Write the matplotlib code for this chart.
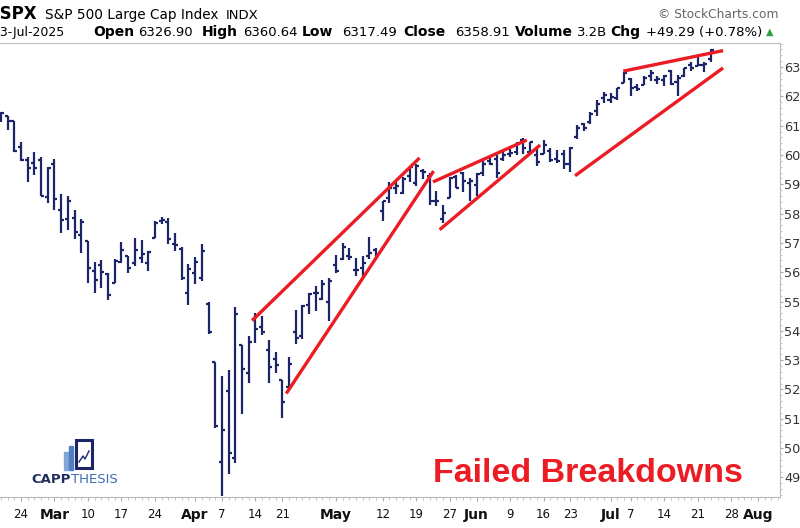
import numpy as np
import pandas as pd
import matplotlib.pyplot as plt
from matplotlib.patches import Rectangle
from matplotlib.ticker import MultipleLocator

plt.rcParams['font.family'] = ['Liberation Sans', 'DejaVu Sans']

# daily S&P 500 bars, 19-Feb-2025 .. 23-Jul-2025
opens = [6117.8, 6134.5, 6114.8, 6026.7, 5982.7, 5970.9, 5981.9, 5856.7,
         5968.3, 5812.0, 5781.4, 5785.9, 5726.0, 5705.4, 5603.7, 5624.8, 5594.5, 5563.9,
         5635.6, 5654.5, 5632.4, 5646.9, 5630.7, 5718.1, 5776.0, 5771.7, 5695.6, 5679.8, 5527.9,
         5597.5, 5580.8, 5492.7, 5292.1, 4953.8, 5193.6, 4965.3, 5353.2, 5255.6,
         5442.0, 5412.0, 5335.8, 5305.5, 5232.9, 5207.7, 5395.9, 5381.4, 5489.7, 5529.2, 5508.9, 5499.4,
         5625.1, 5645.7, 5655.3, 5605.9, 5614.6, 5656.0, 5675.7, 5807.9, 5854.8, 5886.6, 5870.7, 5929.1,
         5902.9, 5944.7, 5928.3, 5842.1, 5781.9, 5854.1, 5925.4, 5939.9, 5903.7,
         5896.7, 5938.6, 5978.9, 5985.7, 5987.1, 6004.6, 6009.9, 6049.4, 6009.9, 6000.6,
         6004.0, 6012.2, 5987.9, 6004.0, 5969.7, 6061.2, 6104.3, 6112.1, 6150.7, 6193.4,
         6187.3, 6193.3, 6246.5, 6259.0, 6233.3, 6237.6, 6270.1, 6256.0, 6255.2, 6286.6,
         6249.7, 6270.5, 6307.4, 6304.7, 6306.6, 6326.9]
highs = [6147.4, 6134.5, 6114.8, 6043.7, 5992.7, 6009.8, 5993.7, 5959.4,
         5986.1, 5865.1, 5860.6, 5812.1, 5783.0, 5705.4, 5636.3, 5642.2, 5597.8, 5645.3,
         5703.5, 5654.5, 5715.3, 5711.2, 5670.8, 5775.1, 5787.0, 5783.6, 5732.3, 5685.9, 5627.6,
         5650.6, 5695.3, 5499.5, 5292.1, 5246.6, 5267.5, 5481.3, 5353.2, 5381.5,
         5459.5, 5450.4, 5367.2, 5328.3, 5232.9, 5309.6, 5469.7, 5489.4, 5528.1, 5553.7, 5572.0, 5581.8,
         5658.9, 5700.7, 5683.1, 5649.6, 5654.6, 5720.1, 5683.8, 5844.2, 5906.6, 5906.2, 5924.7, 5958.6,
         5968.6, 5953.1, 5938.4, 5878.1, 5829.5, 5924.3, 5930.7, 5943.1, 5922.1,
         5937.4, 5981.4, 5990.5, 5999.7, 6016.9, 6021.3, 6043.0, 6059.4, 6045.4, 6026.2,
         6050.8, 6023.3, 6018.3, 6018.2, 6028.8, 6101.8, 6108.5, 6146.5, 6187.7, 6215.1,
         6210.8, 6227.6, 6284.7, 6262.2, 6242.7, 6269.9, 6290.2, 6269.4, 6272.3, 6290.3,
         6271.2, 6297.4, 6315.6, 6336.1, 6316.1, 6360.6]
lows = [6111.2, 6084.6, 6008.6, 5977.8, 5908.5, 5932.7, 5858.8, 5837.7,
        5810.9, 5732.6, 5742.4, 5711.6, 5666.3, 5564.0, 5528.4, 5546.1, 5504.7, 5563.9,
        5631.1, 5597.8, 5622.2, 5632.1, 5603.1, 5718.1, 5765.0, 5695.8, 5670.9, 5572.4, 5488.7,
        5558.5, 5571.5, 5390.8, 5069.9, 4835.0, 4910.4, 4948.4, 5115.3, 5220.8,
        5358.0, 5386.4, 5220.8, 5255.6, 5101.6, 5207.7, 5356.2, 5372.0, 5455.9, 5468.6, 5505.7, 5433.2,
        5597.4, 5640.4, 5640.5, 5587.2, 5580.4, 5646.3, 5644.4, 5775.1, 5836.9, 5866.9, 5865.2, 5907.3,
        5895.7, 5918.0, 5830.9, 5825.8, 5767.4, 5854.1, 5886.2, 5873.8, 5843.7,
        5861.4, 5929.0, 5966.1, 5921.2, 5978.6, 5994.2, 6000.3, 6002.3, 6003.9, 5963.2,
        6004.0, 5974.8, 5971.9, 5952.6, 5943.2, 6054.0, 6080.3, 6107.1, 6132.4, 6178.0,
        6177.1, 6188.3, 6246.5, 6201.6, 6217.8, 6237.6, 6251.2, 6242.9, 6235.8, 6237.8,
        6201.2, 6265.4, 6285.3, 6303.8, 6281.7, 6317.5]
closes = [6144.2, 6117.5, 6013.1, 5983.3, 5955.3, 5956.1, 5861.6, 5954.5,
          5849.7, 5778.2, 5842.6, 5738.5, 5770.2, 5614.6, 5572.1, 5599.3, 5521.5, 5638.9,
          5675.1, 5614.7, 5675.3, 5662.9, 5667.6, 5767.6, 5776.7, 5712.2, 5693.3, 5580.9, 5611.9,
          5633.1, 5671.0, 5396.5, 5074.1, 5062.3, 4982.8, 5456.9, 5268.1, 5363.4,
          5406.0, 5396.6, 5275.7, 5282.7, 5158.2, 5287.8, 5375.9, 5484.8, 5525.2, 5528.8, 5560.8, 5569.1,
          5604.1, 5686.7, 5650.4, 5606.9, 5631.3, 5663.9, 5659.9, 5844.2, 5886.6, 5892.6, 5916.9, 5958.4,
          5963.6, 5940.5, 5844.6, 5842.0, 5802.8, 5921.5, 5888.6, 5912.2, 5911.7,
          5935.9, 5970.4, 5970.8, 5939.3, 6000.4, 6005.9, 6038.8, 6022.2, 6045.3, 5977.0,
          6033.1, 5982.7, 5980.9, 5967.8, 6025.2, 6092.2, 6092.2, 6141.0, 6173.1, 6205.0,
          6198.0, 6227.4, 6279.4, 6230.0, 6225.5, 6263.3, 6280.5, 6259.8, 6268.6, 6243.8,
          6263.7, 6297.4, 6296.8, 6305.6, 6309.6, 6358.9]

# trading calendar (market holidays removed), runs on past the last bar
holidays = ['2025-04-18', '2025-05-26', '2025-06-19', '2025-07-04']
days = pd.bdate_range('2025-02-19', '2025-08-12')
days = days[~days.isin(pd.to_datetime(holidays))]

tick_dates = ['2025-02-24', '2025-03-03', '2025-03-10', '2025-03-17', '2025-03-24',
              '2025-04-01', '2025-04-07', '2025-04-14', '2025-04-21', '2025-05-01',
              '2025-05-12', '2025-05-19', '2025-05-27', '2025-06-02', '2025-06-09',
              '2025-06-16', '2025-06-23', '2025-07-01', '2025-07-07', '2025-07-14',
              '2025-07-21', '2025-07-28', '2025-08-01']
tick_labels = ['24', 'Mar', '10', '17', '24', 'Apr', '7', '14', '21', 'May', '12', '19',
               '27', 'Jun', '9', '16', '23', 'Jul', '7', '14', '21', '28', 'Aug']

# hand-drawn trendlines: (trading-day index, price) endpoints
trend_lines = [
    [(37.5, 5435), (62.5, 5990)],
    [(42.6, 5186), (64.6, 5945)],
    [(64.5, 5908), (78.5, 6051)],
    [(65.5, 5745), (80.5, 6034)],
    [(92.9, 6286), (107.8, 6356)],
    [(85.7, 5929), (107.8, 6297)],
]

navy = '#1c2568'
red = '#ec1c24'
hdr = ['DejaVu Sans']

fig = plt.figure(figsize=(8, 5.28), dpi=100)
ax = fig.add_axes([0, 31 / 528, 780 / 800, 454 / 528])

idx = np.arange(len(closes))
ax.vlines(idx, lows, highs, color=navy, lw=1.6)
ax.hlines(opens, idx - 0.45, idx, color=navy, lw=1.6)
ax.hlines(closes, idx, idx + 0.45, color=navy, lw=1.6)

for (x0, y0), (x1, y1) in trend_lines:
    ax.plot([x0, x1], [y0, y1], color=red, lw=2.4, solid_capstyle='butt')

ax.set_xlim(-0.13, 116.3)
ax.set_ylim(4833, 6382)

# x ticks at trading-day positions
pos = [days.get_loc(pd.Timestamp(d)) for d in tick_dates]
ax.set_xticks(pos)
ax.set_xticklabels(tick_labels, family=hdr)
for lab in ax.get_xticklabels():
    if not lab.get_text().isdigit():
        lab.set_fontweight('bold')
        lab.set_fontsize(10)
    else:
        lab.set_fontsize(8.5)
ax.xaxis.set_minor_locator(MultipleLocator(1))
ax.tick_params(axis='x', which='major', length=3, color='#aaaaaa', pad=5, labelcolor='#111111')
ax.tick_params(axis='x', which='minor', length=2, color='#bbbbbb')

ax.yaxis.tick_right()
ax.set_yticks(range(4900, 6400, 100))
ax.set_yticklabels([str(v) for v in range(4900, 6400, 100)], family=hdr)
ax.yaxis.set_minor_locator(MultipleLocator(20))
ax.tick_params(axis='y', which='major', length=2, color='#aaaaaa', labelsize=9.3, pad=1,
               labelcolor='#333333')
ax.tick_params(axis='y', which='minor', length=1.5, color='#bbbbbb')

ax.spines['left'].set_visible(False)
for s in ['top', 'right', 'bottom']:
    ax.spines[s].set_color('#bbbbbb')
    ax.spines[s].set_linewidth(0.8)

ax.text(0.952, 0.034, 'Failed Breakdowns', transform=ax.transAxes, ha='right', va='baseline',
        color=red, fontsize=24.5, fontweight='bold')

# header
def ft(px, py, s, **kw):
    fig.text(px / 800, 1 - py / 528, s, va='baseline', **kw)

ft(-11.6, 19, '$SPX', fontsize=12, fontweight='bold', family=hdr)
ft(45, 19, 'S&P 500 Large Cap Index', fontsize=9.8, family=hdr)
ft(226, 19, 'INDX', fontsize=9.5, family=hdr)
ft(778, 18, '© StockCharts.com', fontsize=8.8, color='#666666', ha='right', family=hdr)
ft(-8, 36, '23-Jul-2025', fontsize=9, family=hdr)
header2 = [(93, 'Open', True), (138, '6326.90', False), (202, 'High', True),
           (243, '6360.64', False), (302, 'Low', True), (342, '6317.49', False),
           (403, 'Close', True), (455, '6358.91', False), (515, 'Volume', True),
           (577, '3.2B', False), (610, 'Chg', True), (646, '+49.29 (+0.78%)', False)]
for px, s, b in header2:
    ft(px, 36, s, fontsize=10 if b else 9.5, fontweight='bold' if b else 'normal', family=hdr)
ft(766, 35, '▲', fontsize=7, color='#2e9e3e', family=hdr)

# CappThesis logo
logo_bars = [(64, 452, 4, 18, '#7fa6d6'), (69, 446, 4, 24, '#4f7fc0')]
for x, y, w, h, c in logo_bars:
    fig.patches.append(Rectangle((x / 800, 1 - (y + h) / 528), w / 800, h / 528,
                                 transform=fig.transFigure, color=c))
fig.patches.append(Rectangle((76 / 800, 1 - 468 / 528), 16 / 800, 28 / 528,
                             transform=fig.transFigure, fill=False, ec=navy, lw=2.2))
fig.lines.append(plt.Line2D([79 / 800, 83 / 800, 85 / 800, 89 / 800],
                            [1 - 462 / 528, 1 - 456 / 528, 1 - 459 / 528, 1 - 451 / 528],
                            transform=fig.transFigure, color=navy, lw=1.0))
ft(31, 483, 'CAPP', fontsize=9.5, fontweight='bold', color='#1f2d5c', family=hdr)
ft(71, 483, 'THESIS', fontsize=9.5, color='#3d6db5', family=hdr)

fig.savefig('out.png', dpi=100)
